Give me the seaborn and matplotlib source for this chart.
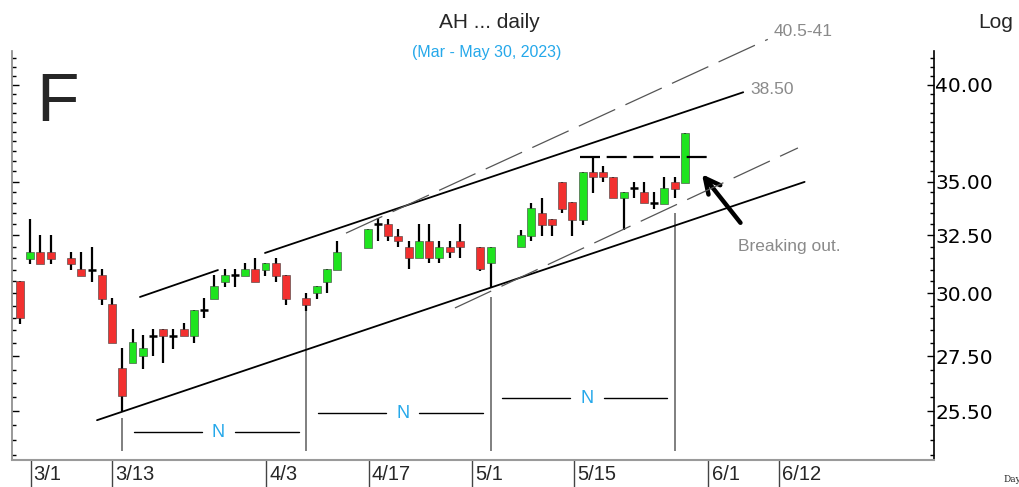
import matplotlib
matplotlib.use("Agg")
import sys
import numpy as np
import pandas as pd
import matplotlib.pyplot as plt
import seaborn as sns
from matplotlib.ticker import FixedLocator, MultipleLocator, NullFormatter, FuncFormatter
from matplotlib.transforms import blended_transform_factory

# ==========================================
# DATA (trading-day index)
# ==========================================
days = [0, 1, 2, 3, 5, 6, 7, 8, 9, 10, 11, 12, 13, 14, 15, 16, 17, 18, 19, 20,
        21, 22, 23, 24, 25, 26, 28, 29, 30, 31, 34, 35, 36, 37, 38, 39, 40, 41,
        42, 43, 45, 46, 49, 50, 51, 52, 53, 54, 55, 56, 57, 58, 59, 60, 61, 62,
        63, 64, 65]
opens = [30.51, 31.46, 31.76, 31.76, 31.50, 31.03, 30.98, 30.77, 29.56, 27.06,
         27.25, 27.51, 28.28, 28.56, 28.28, 28.56, 28.28, 29.32, 29.77, 30.47,
         30.77, 30.73, 31.03, 30.98, 31.28, 30.77, 29.81, 30.01, 30.47, 30.98,
         31.94, 33.01, 33.01, 32.47, 31.98, 31.50, 32.25, 31.50, 31.98, 32.25,
         31.98, 31.28, 31.98, 32.47, 33.52, 33.24, 34.99, 34.03, 33.20, 35.47,
         35.47, 35.23, 34.22, 34.70, 34.50, 33.98, 33.94, 34.99, 34.93]
highs = [30.51, 33.24, 32.52, 32.52, 31.76, 31.76, 31.98, 31.03, 29.81, 27.82,
         28.56, 28.32, 28.56, 28.56, 28.56, 28.80, 29.32, 29.81, 30.77, 31.03,
         31.03, 31.28, 31.50, 31.28, 31.50, 30.77, 30.01, 30.30, 31.03, 32.25,
         32.79, 33.29, 33.24, 32.79, 32.25, 33.01, 33.01, 32.25, 32.25, 33.01,
         31.98, 31.98, 32.74, 33.98, 34.22, 33.24, 34.99, 34.03, 35.47, 36.22,
         35.77, 35.23, 34.50, 34.99, 34.99, 34.50, 35.23, 35.23, 37.44]
lows = [28.76, 31.24, 31.24, 31.24, 30.98, 30.73, 30.47, 29.52, 28.01, 25.50,
        27.25, 27.02, 27.51, 27.25, 27.78, 28.28, 28.01, 29.00, 29.77, 30.26,
        30.26, 30.73, 30.47, 30.73, 30.47, 29.52, 29.28, 29.77, 30.01, 30.98,
        31.94, 32.25, 32.25, 31.98, 31.03, 31.50, 31.28, 31.28, 31.50, 31.50,
        30.95, 30.26, 31.98, 32.25, 32.47, 32.47, 33.52, 32.47, 32.97, 34.46,
        34.99, 34.22, 32.74, 34.22, 33.98, 33.71, 33.94, 34.22, 34.93]
closes = [29.00, 31.76, 31.24, 31.46, 31.24, 30.73, 30.98, 29.77, 28.01, 26.03,
          28.05, 27.82, 28.28, 28.28, 28.28, 28.28, 29.32, 29.32, 30.30, 30.77,
          30.77, 31.03, 30.47, 31.28, 30.73, 29.77, 29.52, 30.30, 31.03, 31.76,
          32.79, 33.01, 32.47, 32.25, 31.50, 32.25, 31.50, 31.98, 31.76, 31.98,
          31.03, 31.98, 32.52, 33.75, 32.97, 32.97, 33.71, 33.20, 35.47, 35.23,
          35.23, 34.22, 34.50, 34.70, 33.98, 33.98, 34.70, 34.65, 37.44]

date_ticks = [1.03, 9.0, 24.05, 34.1, 44.2, 54.2, 67.3, 74.2]
date_labels = ["3/1", "3/13", "4/3", "4/17", "5/1", "5/15", "6/1", "6/12"]
price_ticks = [25.5, 27.5, 30.0, 32.5, 35.0, 40.0]

# drawn annotations (day index, price)
channel_lower = [(7.53, 25.18), (76.7, 34.99)]
channel_upper = [[(11.73, 29.85), (19.35, 30.98)], [(23.95, 31.72), (70.7, 39.6)]]
fan_upper = [(31.87, 32.60), (73.1, 42.6)]
fan_lower = [(42.52, 29.40), (76.05, 36.67)]
resistance = [(54.7, 36.22), (67.4, 36.22)]
cycle_days = [10, 28, 46, 64]
cycle_tops = [25.26, 29.32, 29.85, 33.52]
cycle_bottom = 24.13
n_price = [24.77, 25.43, 25.96]

RED = "#f2302f"
GREEN = "#1fe41f"
BLUE = "#25a8ea"
GREY_TXT = "#8a8a8a"

df = pd.DataFrame({"day": days, "open": opens, "high": highs,
                   "low": lows, "close": closes})
df["up"] = df["close"] > df["open"]
df["doji"] = (df["close"] - df["open"]).abs() < 0.005


def top_row_ink():
    img = plt.imread("out.png")
    return max(int((img[r, 100:900, :3].mean(axis=1) < 0.9).sum()) for r in range(48, 53))


def main():
    sns.set_theme(style="white", rc={"axes.spines.top": False,
                                     "xtick.top": False, "axes.grid": False})
    plt.rcParams["font.family"] = ["Liberation Sans", "DejaVu Sans"]

    W, H = 1019, 487
    fig = plt.figure(figsize=(W / 100, H / 100), dpi=100)
    ax = fig.add_axes([12 / W, 1 - 459.5 / H, 922 / W, 409 / H])
    ax.patch.set_visible(False)
    ax.set_yscale("log")
    ax.set_xlim(-0.78, 89.35)
    ax.set_ylim(23.85, 41.95)

    # wicks
    ax.vlines(df["day"], df["low"], df["high"], color="black", lw=1.6, zorder=2)
    # bodies
    bw = 0.78
    body = df[~df["doji"]]
    ax.bar(body["day"], (body["close"] - body["open"]).abs(),
           bottom=body[["open", "close"]].min(axis=1), width=bw,
           color=np.where(body["up"], GREEN, RED),
           edgecolor="#3a3a3a", linewidth=0.4, zorder=3)
    doji = df[df["doji"]]
    ax.hlines(doji["close"], doji["day"] - bw / 2, doji["day"] + bw / 2,
              color="black", lw=1.8, zorder=3)

    # channel lines
    (x0, y0), (x1, y1) = channel_lower
    ax.plot([x0, x1], [y0, y1], color="black", lw=1.3, zorder=4)
    for seg in channel_upper:
        ax.plot([seg[0][0], seg[1][0]], [seg[0][1], seg[1][1]],
                color="black", lw=1.3, zorder=4)
    for seg in (fan_upper, fan_lower):
        ax.plot([seg[0][0], seg[1][0]], [seg[0][1], seg[1][1]], color="#555555",
                lw=0.9, dashes=(32, 9), zorder=4, clip_on=False)
    ax.plot([resistance[0][0], resistance[1][0]], [resistance[0][1], resistance[1][1]],
            color="black", lw=1.6, dashes=(9, 3), zorder=4)

    # arrow
    ax.annotate("", xy=(66.5, 35.47), xytext=(70.6, 32.97),
                arrowprops=dict(arrowstyle="->, head_length=0.9, head_width=0.45",
                                lw=3.2, color="black"))

    # cycle markers
    ax.vlines(cycle_days, cycle_bottom, cycle_tops, color="#7f7f7f", lw=1.4, zorder=1)
    for k in range(len(cycle_days) - 1):
        a, b = cycle_days[k], cycle_days[k + 1]
        mid = (a + b) / 2 + 0.1
        ax.plot([a + 1.1, mid - 1.35], [n_price[k]] * 2, color="black", lw=1.0)
        ax.plot([mid + 1.95, b - 0.75], [n_price[k]] * 2, color="black", lw=1.0)
        ax.text(mid + 0.3, n_price[k], "N", color=BLUE, fontsize=13,
                ha="center", va="center")

    # spines
    ax.spines["top"].set_visible(False)
    ax.spines["left"].set_color("#8c8c8c")
    ax.spines["bottom"].set_color("#9a9a9a")
    ax.spines["bottom"].set_linewidth(1.5)
    ax.spines["right"].set_color("black")
    ax.spines["right"].set_linewidth(1.2)

    # y axis (right, log)
    ax.yaxis.set_major_locator(FixedLocator(price_ticks))
    ax.yaxis.set_minor_locator(MultipleLocator(0.5))
    ax.yaxis.set_major_formatter(FuncFormatter(lambda v, _: f"{v:.2f}"))
    ax.yaxis.set_minor_formatter(NullFormatter())
    ax.tick_params(axis="y", which="both", direction="in", left=True, right=True,
                   labelleft=False, labelright=True, color="black")
    ax.tick_params(axis="y", which="major", length=5, width=1, pad=1,
                   labelsize=14.5, labelcolor="black")
    ax.tick_params(axis="y", which="minor", length=3, width=1)
    for lab in ax.get_yticklabels():
        lab.set_family("DejaVu Sans")

    # x axis dates
    ax.set_xticks(date_ticks)
    ax.set_xticklabels([])
    ax.tick_params(axis="x", direction="out", length=20, width=1, color="#444444",
                   bottom=True, top=False)
    trans = blended_transform_factory(ax.transData, fig.transFigure)
    for pos, lab in zip(date_ticks, date_labels):
        ax.text(pos + 0.3, 1 - 474 / H, lab, transform=trans, fontsize=14.5,
                ha="left", va="center", clip_on=False)

    # text
    def ftxt(x, y, s, **kw):
        fig.text(x / W, 1 - y / H, s, **kw)

    ftxt(489, 22, "AH ... daily", fontsize=15, ha="center", va="center")
    ftxt(487, 52, "(Mar - May 30, 2023)", fontsize=11.5, color=BLUE,
         ha="center", va="center")
    ftxt(58, 103, "F", fontsize=50, ha="center", va="center")
    ftxt(996, 22, "Log", fontsize=15, ha="center", va="center")
    ftxt(1003, 479, "Day", fontsize=6.5, family="DejaVu Serif", ha="left", va="center")
    ftxt(774, 32, "40.5-41", fontsize=12.5, color=GREY_TXT, ha="left", va="center")
    ftxt(750, 90, "38.50", fontsize=12.5, color=GREY_TXT, ha="left", va="center")
    ftxt(738, 246, "Breaking out.", fontsize=12.5, color=GREY_TXT, ha="left", va="center")

    fig.savefig("out.png", dpi=100)

    # sanity check: no stray horizontal frame line along the top of the axes
    if top_row_ink() > 400:
        culprits = []
        for art in ax.get_children():
            if not art.get_visible():
                continue
            art.set_visible(False)
            fig.savefig("out.png", dpi=100)
            if top_row_ink() < 400:
                culprits.append(repr(art))
            art.set_visible(True)
        fig.savefig("out.png", dpi=100)
        print("top line from:", culprits, file=sys.stderr)
        sys.exit(1)


if __name__ == "__main__":
    main()
